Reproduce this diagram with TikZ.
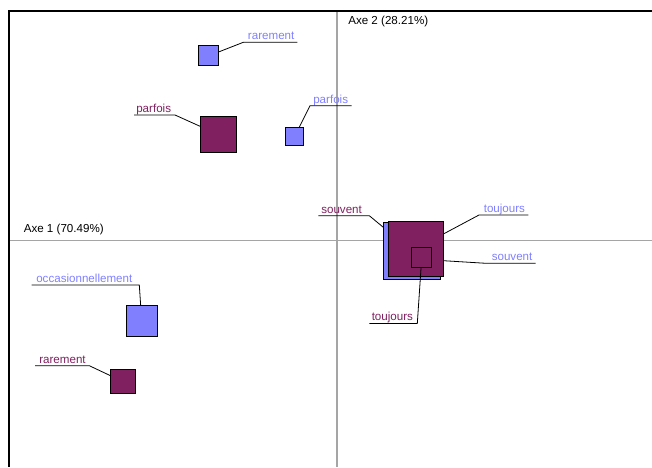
\documentclass[tikz,border=0pt]{standalone}
\usepackage{fontspec}
\setmainfont{Liberation Sans}
\definecolor{purp}{RGB}{128,32,96}
\definecolor{blu}{RGB}{128,128,255}
\definecolor{axgray}{RGB}{165,165,165}
\begin{document}
\begin{tikzpicture}[x=0.75pt,y=-0.75pt,
  every node/.style={font=\fontsize{8.7}{10}\selectfont},
  sqP/.style={draw=black,fill=purp,line width=0.75pt,inner sep=0pt,outer sep=0pt},
  sqB/.style={draw=black,fill=blu,line width=0.75pt,inner sep=0pt,outer sep=0pt},
  lblP/.style={text=purp,inner sep=0pt,anchor=base west},
  lblB/.style={text=blu,inner sep=0pt,anchor=base west},
  leader/.style={draw=black,line width=0.6pt},
  axisline/.style={draw=axgray,line width=0.9pt},
  frameline/.style={draw=black,line width=1.6pt}]
\useasboundingbox (0,0) rectangle (652,467);
% frame and axes
\coordinate (fTL) at (9,11);
\coordinate (fTR) at (652,11);
\coordinate (fBL) at (9,467);
\draw[frameline] (fTR) -- (fTL) -- (fBL);
\coordinate (h1) at (10,240.5);
\coordinate (h2) at (652,240.5);
\coordinate (v1) at (337,12);
\coordinate (v2) at (337,467);
\draw[axisline] (h1) -- (h2);
\draw[axisline] (v1) -- (v2);
\node[anchor=base west,inner sep=0pt] (ax2) at (348,25) {Axe 2 (28.21\%)};
\node[anchor=base west,inner sep=0pt] (ax1) at (23.5,232) {Axe 1 (70.49\%)};

% squares
\node[sqB,minimum size=15pt] (sqBr) at (208.3,56) {};
\node[sqP,minimum size=27pt] (sqPp) at (218.7,134.7) {};
\node[sqB,minimum size=13.5pt] (sqBp) at (294.5,136.7) {};
\node[sqB,minimum size=43pt] (sqBs) at (412.2,251.2) {};
\node[sqP,minimum size=41.5pt] (sqPs) at (415.8,248.7) {};
\node[sqP,minimum size=15pt] (sqPt) at (421.7,257.9) {};
\node[sqB,minimum size=23.5pt] (sqBo) at (141.7,321) {};
\node[sqP,minimum size=18.4pt] (sqPr) at (123.2,381.7) {};

% labels
\node[lblB] (tBr) at (247.7,40) {rarement};
\node[lblP] (tPp) at (136,112.3) {parfois};
\node[lblB] (tBp) at (313,103) {parfois};
\node[lblP] (tPs) at (321,213) {souvent};
\node[lblB] (tBt) at (483.5,212.3) {toujours};
\node[lblB] (tBs) at (491.5,260.5) {souvent};
\node[lblP] (tPt) at (371.5,320.7) {toujours};
\node[lblB] (tBo) at (36,282.5) {occasionnellement};
\node[lblP] (tPr) at (39,363.5) {rarement};

% leader coordinates
\coordinate (kBr) at (243.3,42.3); \coordinate (eBr) at (297.3,42.3);
\coordinate (kPp) at (175,115);    \coordinate (ePp) at (134,115);
\coordinate (kBp) at (310,105.7);  \coordinate (eBp) at (351.7,105.7);
\coordinate (kPs) at (369.3,215.7);\coordinate (ePs) at (318.3,215.7);
\coordinate (kBt) at (479,215);    \coordinate (eBt) at (528.3,215);
\coordinate (kBs) at (486,263.3);  \coordinate (eBs) at (535.7,263.3);
\coordinate (kPt) at (417.3,323.5);\coordinate (ePt) at (369.3,323.5);
\coordinate (kBo) at (139.3,285);  \coordinate (eBo) at (31.7,285);
\coordinate (kPr) at (89.3,365.7); \coordinate (ePr) at (35,365.7);

% leaders
\draw[leader] (eBr) -- (kBr) -- (sqBr);
\draw[leader] (ePp) -- (kPp) -- (sqPp);
\draw[leader] (eBp) -- (kBp) -- (sqBp);
\draw[leader] (ePs) -- (kPs) -- (sqBs);
\draw[leader] (eBt) -- (kBt) -- (sqPs);
\draw[leader] (eBs) -- (kBs) -- ([yshift=-9pt]sqPs.east);
\draw[leader] (ePt) -- (kPt) -- (sqPt);
\draw[leader] (eBo) -- (kBo) -- (sqBo);
\draw[leader] (ePr) -- (kPr) -- (sqPr);
\end{tikzpicture}
\end{document}
